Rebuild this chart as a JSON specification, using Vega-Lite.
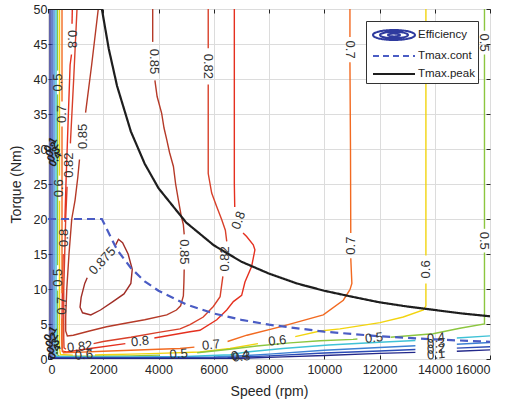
{
"$schema":"https://vega.github.io/schema/vega-lite/v6.json",
"width":442,"height":350,
"autosize":{"type":"none"},
"padding":{"left":48,"top":9,"right":17,"bottom":47},
"background":"white",
"config":{"view":{"stroke":"#262626","strokeWidth":1},"font":"Liberation Sans",
"axis":{"labelFont":"Liberation Sans","titleFont":"Liberation Sans","labelFontSize":12.5,"titleFontSize":14,"titleFontWeight":"normal","labelColor":"#262626","titleColor":"#262626","gridColor":"#dcdcdc","domain":false,"tickColor":"#262626","format":"d"}},
"datasets":{
"c":[
{"l":"0.875","s":"875","x":2450,"y":16.3},{"l":"0.875","s":"875","x":2550,"y":17.1},{"l":"0.875","s":"875","x":2700,"y":16.6},{"l":"0.875","s":"875","x":2900,"y":15.0},{"l":"0.875","s":"875","x":3050,"y":12.8},{"l":"0.875","s":"875","x":3000,"y":10.8},{"l":"0.875","s":"875","x":2750,"y":9.3},{"l":"0.875","s":"875","x":2350,"y":8.2},{"l":"0.875","s":"875","x":1900,"y":7.0},{"l":"0.875","s":"875","x":1550,"y":6.3},{"l":"0.875","s":"875","x":1250,"y":6.6},{"l":"0.875","s":"875","x":1160,"y":7.4},{"l":"0.875","s":"875","x":1200,"y":8.8},{"l":"0.875","s":"875","x":1330,"y":10.8},{"l":"0.875","s":"875","x":1420,"y":11.6},
{"l":"0.85","s":"85a","x":3790,"y":50},{"l":"0.85","s":"85a","x":3790,"y":45.3},
{"l":"0.85","s":"85b","x":3870,"y":39.8},{"l":"0.85","s":"85b","x":3950,"y":37.5},{"l":"0.85","s":"85b","x":4115,"y":35.1},{"l":"0.85","s":"85b","x":4200,"y":33},{"l":"0.85","s":"85b","x":4300,"y":31.3},{"l":"0.85","s":"85b","x":4400,"y":29.5},{"l":"0.85","s":"85b","x":4540,"y":27.5},{"l":"0.85","s":"85b","x":4620,"y":25},{"l":"0.85","s":"85b","x":4720,"y":22.7},{"l":"0.85","s":"85b","x":4820,"y":20.5},{"l":"0.85","s":"85b","x":4900,"y":19.2},{"l":"0.85","s":"85b","x":4930,"y":17.8},
{"l":"0.85","s":"85c","x":4930,"y":12.8},{"l":"0.85","s":"85c","x":4920,"y":11},{"l":"0.85","s":"85c","x":4900,"y":9},{"l":"0.85","s":"85c","x":4800,"y":7.6},{"l":"0.85","s":"85c","x":4650,"y":7.0},{"l":"0.85","s":"85c","x":4300,"y":6.3},{"l":"0.85","s":"85c","x":3500,"y":5.6},{"l":"0.85","s":"85c","x":2800,"y":5.1},{"l":"0.85","s":"85c","x":2120,"y":4.6},{"l":"0.85","s":"85c","x":1500,"y":4.0},{"l":"0.85","s":"85c","x":915,"y":3.4},{"l":"0.85","s":"85c","x":700,"y":3.3},{"l":"0.85","s":"85c","x":640,"y":4},{"l":"0.85","s":"85c","x":640,"y":6},{"l":"0.85","s":"85c","x":680,"y":10},{"l":"0.85","s":"85c","x":760,"y":15},{"l":"0.85","s":"85c","x":860,"y":20},{"l":"0.85","s":"85c","x":980,"y":22.7},{"l":"0.85","s":"85c","x":1080,"y":26},{"l":"0.85","s":"85c","x":1140,"y":28.5},
{"l":"0.85","s":"85d","x":1360,"y":35.2},{"l":"0.85","s":"85d","x":1580,"y":42},{"l":"0.85","s":"85d","x":1820,"y":50},
{"l":"0.82","s":"82a","x":5800,"y":50},{"l":"0.82","s":"82a","x":5800,"y":44.4},
{"l":"0.82","s":"82b","x":5800,"y":39.2},{"l":"0.82","s":"82b","x":5800,"y":26.5},{"l":"0.82","s":"82b","x":5925,"y":23.7},{"l":"0.82","s":"82b","x":6105,"y":21.8},{"l":"0.82","s":"82b","x":6290,"y":19.9},{"l":"0.82","s":"82b","x":6420,"y":18.4},{"l":"0.82","s":"82b","x":6470,"y":16.8},
{"l":"0.82","s":"82c","x":6330,"y":11.8},{"l":"0.82","s":"82c","x":6230,"y":8.9},{"l":"0.82","s":"82c","x":5985,"y":7.5},{"l":"0.82","s":"82c","x":5620,"y":6.0},{"l":"0.82","s":"82c","x":5140,"y":4.9},{"l":"0.82","s":"82c","x":4780,"y":4.3},{"l":"0.82","s":"82c","x":4000,"y":3.8},{"l":"0.82","s":"82c","x":3000,"y":3.1},{"l":"0.82","s":"82c","x":2000,"y":2.5},{"l":"0.82","s":"82c","x":1650,"y":2.2},
{"l":"0.82","s":"82d","x":650,"y":1.4},{"l":"0.82","s":"82d","x":580,"y":1.6},{"l":"0.82","s":"82d","x":570,"y":3},{"l":"0.82","s":"82d","x":570,"y":10},{"l":"0.82","s":"82d","x":640,"y":20},{"l":"0.82","s":"82d","x":690,"y":24.6},
{"l":"0.82","s":"82e","x":810,"y":30.8},{"l":"0.82","s":"82e","x":930,"y":40},{"l":"0.82","s":"82e","x":1050,"y":50},
{"l":"0.8","s":"80a","x":6745,"y":50},{"l":"0.8","s":"80a","x":6745,"y":25},{"l":"0.8","s":"80a","x":6760,"y":21.7},
{"l":"0.8","s":"80b","x":7060,"y":18.0},{"l":"0.8","s":"80b","x":7190,"y":17.5},{"l":"0.8","s":"80b","x":7430,"y":16.3},{"l":"0.8","s":"80b","x":7490,"y":15.6},{"l":"0.8","s":"80b","x":7370,"y":13.2},{"l":"0.8","s":"80b","x":7130,"y":11.0},{"l":"0.8","s":"80b","x":7010,"y":9.1},{"l":"0.8","s":"80b","x":6710,"y":8.2},{"l":"0.8","s":"80b","x":6470,"y":7.0},{"l":"0.8","s":"80b","x":6110,"y":5.6},{"l":"0.8","s":"80b","x":5500,"y":4.1},{"l":"0.8","s":"80b","x":5140,"y":3.9},{"l":"0.8","s":"80b","x":3850,"y":3.0},
{"l":"0.8","s":"80c","x":2800,"y":2.2},{"l":"0.8","s":"80c","x":1520,"y":1.5},{"l":"0.8","s":"80c","x":680,"y":1.0},{"l":"0.8","s":"80c","x":520,"y":1.1},{"l":"0.8","s":"80c","x":500,"y":3},{"l":"0.8","s":"80c","x":520,"y":10},{"l":"0.8","s":"80c","x":550,"y":15.0},
{"l":"0.8","s":"80d","x":610,"y":19.6},{"l":"0.8","s":"80d","x":650,"y":25},{"l":"0.8","s":"80d","x":720,"y":33},{"l":"0.8","s":"80d","x":800,"y":42},{"l":"0.8","s":"80d","x":850,"y":43.5},
{"l":"0.8","s":"80e","x":870,"y":47.9},{"l":"0.8","s":"80e","x":880,"y":50},
{"l":"0.7","s":"70a","x":10930,"y":50},{"l":"0.7","s":"70a","x":10930,"y":46.0},
{"l":"0.7","s":"70b","x":10930,"y":42.4},{"l":"0.7","s":"70b","x":10950,"y":30},{"l":"0.7","s":"70b","x":10960,"y":18.0},
{"l":"0.7","s":"70c","x":10960,"y":14.4},{"l":"0.7","s":"70c","x":11000,"y":10.8},{"l":"0.7","s":"70c","x":10930,"y":9.9},{"l":"0.7","s":"70c","x":10690,"y":8.4},{"l":"0.7","s":"70c","x":9965,"y":6.3},{"l":"0.7","s":"70c","x":8400,"y":4.6},{"l":"0.7","s":"70c","x":7200,"y":3.4},{"l":"0.7","s":"70c","x":6500,"y":2.5},
{"l":"0.7","s":"70d","x":5300,"y":1.7},{"l":"0.7","s":"70d","x":4780,"y":1.5},{"l":"0.7","s":"70d","x":4000,"y":1.4},{"l":"0.7","s":"70d","x":3000,"y":1.25},{"l":"0.7","s":"70d","x":2000,"y":1.1},{"l":"0.7","s":"70d","x":1000,"y":0.95},{"l":"0.7","s":"70d","x":560,"y":0.9},{"l":"0.7","s":"70d","x":507,"y":1.5},{"l":"0.7","s":"70d","x":507,"y":5.8},
{"l":"0.7","s":"70e","x":507,"y":9.4},{"l":"0.7","s":"70e","x":507,"y":33.2},
{"l":"0.7","s":"70f","x":507,"y":36.8},{"l":"0.7","s":"70f","x":507,"y":50},
{"l":"0.6","s":"60a","x":416,"y":50},{"l":"0.6","s":"60a","x":416,"y":26.2},
{"l":"0.6","s":"60b","x":416,"y":22.6},{"l":"0.6","s":"60b","x":416,"y":1.5},{"l":"0.6","s":"60b","x":450,"y":0.65},{"l":"0.6","s":"60b","x":900,"y":0.55},
{"l":"0.6","s":"60c","x":1700,"y":0.58},{"l":"0.6","s":"60c","x":2000,"y":0.6},{"l":"0.6","s":"60c","x":3000,"y":0.7},{"l":"0.6","s":"60c","x":4000,"y":0.8},{"l":"0.6","s":"60c","x":5500,"y":1.0},{"l":"0.6","s":"60c","x":6590,"y":1.5},{"l":"0.6","s":"60c","x":7600,"y":2.2},
{"l":"0.6","s":"60d","x":8950,"y":3.2},{"l":"0.6","s":"60d","x":9850,"y":4.0},{"l":"0.6","s":"60d","x":10570,"y":4.3},{"l":"0.6","s":"60d","x":12020,"y":5.2},{"l":"0.6","s":"60d","x":12860,"y":6.0},{"l":"0.6","s":"60d","x":13590,"y":7.0},{"l":"0.6","s":"60d","x":13680,"y":7.6},{"l":"0.6","s":"60d","x":13680,"y":10.8},
{"l":"0.6","s":"60e","x":13680,"y":14.8},{"l":"0.6","s":"60e","x":13680,"y":50},
{"l":"0.5","s":"50a","x":344,"y":50},{"l":"0.5","s":"50a","x":344,"y":41.2},
{"l":"0.5","s":"50b","x":344,"y":37.8},{"l":"0.5","s":"50b","x":344,"y":13.4},
{"l":"0.5","s":"50c","x":344,"y":9.8},{"l":"0.5","s":"50c","x":344,"y":0.6},{"l":"0.5","s":"50c","x":400,"y":0.42},{"l":"0.5","s":"50c","x":1000,"y":0.4},{"l":"0.5","s":"50c","x":2000,"y":0.4},{"l":"0.5","s":"50c","x":3000,"y":0.45},{"l":"0.5","s":"50c","x":4050,"y":0.55},
{"l":"0.5","s":"50d","x":5400,"y":0.9},{"l":"0.5","s":"50d","x":6590,"y":1.4},{"l":"0.5","s":"50d","x":7555,"y":1.86},{"l":"0.5","s":"50d","x":8760,"y":2.3},{"l":"0.5","s":"50d","x":9850,"y":2.6},{"l":"0.5","s":"50d","x":11040,"y":2.8},{"l":"0.5","s":"50d","x":11200,"y":2.85},
{"l":"0.5","s":"50e","x":12400,"y":3.1},{"l":"0.5","s":"50e","x":12500,"y":3.15},{"l":"0.5","s":"50e","x":13940,"y":3.6},{"l":"0.5","s":"50e","x":14910,"y":4.4},{"l":"0.5","s":"50e","x":15800,"y":5.0},{"l":"0.5","s":"50e","x":15800,"y":15.2},
{"l":"0.5","s":"50f","x":15800,"y":18.6},{"l":"0.5","s":"50f","x":15800,"y":43.5},
{"l":"0.5","s":"50g","x":15800,"y":46.9},{"l":"0.5","s":"50g","x":15800,"y":50},
{"l":"0.4","s":"40a","x":290,"y":50},{"l":"0.4","s":"40a","x":290,"y":0.35},{"l":"0.4","s":"40a","x":1000,"y":0.3},{"l":"0.4","s":"40a","x":3000,"y":0.3},{"l":"0.4","s":"40a","x":5000,"y":0.35},{"l":"0.4","s":"40a","x":6590,"y":0.6},{"l":"0.4","s":"40a","x":7190,"y":1.0},{"l":"0.4","s":"40a","x":8500,"y":1.5},{"l":"0.4","s":"40a","x":10160,"y":2.0},{"l":"0.4","s":"40a","x":12000,"y":2.4},{"l":"0.4","s":"40a","x":13300,"y":2.65},
{"l":"0.4","s":"40b","x":14800,"y":3.0},{"l":"0.4","s":"40b","x":16000,"y":3.3},
{"l":"0.3","s":"30a","x":217,"y":50},{"l":"0.3","s":"30a","x":217,"y":0.25},{"l":"0.3","s":"30a","x":3000,"y":0.22},{"l":"0.3","s":"30a","x":6000,"y":0.28},{"l":"0.3","s":"30a","x":7200,"y":0.5},{"l":"0.3","s":"30a","x":8000,"y":0.7},{"l":"0.3","s":"30a","x":10000,"y":1.25},{"l":"0.3","s":"30a","x":12000,"y":1.65},{"l":"0.3","s":"30a","x":13300,"y":1.9},
{"l":"0.3","s":"30b","x":14800,"y":2.1},{"l":"0.3","s":"30b","x":16000,"y":2.35},
{"l":"0.2","s":"20a","x":145,"y":50},{"l":"0.2","s":"20a","x":145,"y":0.17},{"l":"0.2","s":"20a","x":3000,"y":0.15},{"l":"0.2","s":"20a","x":6500,"y":0.18},{"l":"0.2","s":"20a","x":8000,"y":0.45},{"l":"0.2","s":"20a","x":10000,"y":0.85},{"l":"0.2","s":"20a","x":12000,"y":1.15},{"l":"0.2","s":"20a","x":13300,"y":1.35},
{"l":"0.2","s":"20b","x":14800,"y":1.55},{"l":"0.2","s":"20b","x":16000,"y":1.76},
{"l":"0.1","s":"10a","x":72,"y":50},{"l":"0.1","s":"10a","x":72,"y":0.1},{"l":"0.1","s":"10a","x":3000,"y":0.08},{"l":"0.1","s":"10a","x":7000,"y":0.1},{"l":"0.1","s":"10a","x":8500,"y":0.3},{"l":"0.1","s":"10a","x":10000,"y":0.5},{"l":"0.1","s":"10a","x":12000,"y":0.8},{"l":"0.1","s":"10a","x":13300,"y":0.95},
{"l":"0.1","s":"10b","x":14800,"y":1.1},{"l":"0.1","s":"10b","x":16000,"y":1.3}
],
"t":[
{"series":"Tmax.cont","x":0,"y":20},{"series":"Tmax.cont","x":1950,"y":20},{"series":"Tmax.cont","x":2500,"y":15.6},{"series":"Tmax.cont","x":3000,"y":13.0},{"series":"Tmax.cont","x":3500,"y":11.1},{"series":"Tmax.cont","x":4000,"y":9.75},{"series":"Tmax.cont","x":5000,"y":7.8},{"series":"Tmax.cont","x":6000,"y":6.5},{"series":"Tmax.cont","x":7000,"y":5.6},{"series":"Tmax.cont","x":8000,"y":4.9},{"series":"Tmax.cont","x":10000,"y":3.9},{"series":"Tmax.cont","x":12000,"y":3.25},{"series":"Tmax.cont","x":14000,"y":2.8},{"series":"Tmax.cont","x":16000,"y":2.45},
{"series":"Tmax.peak","x":0,"y":50},{"series":"Tmax.peak","x":1950,"y":50},{"series":"Tmax.peak","x":2200,"y":44.3},{"series":"Tmax.peak","x":2500,"y":39},{"series":"Tmax.peak","x":3000,"y":32.5},{"series":"Tmax.peak","x":3500,"y":27.9},{"series":"Tmax.peak","x":4000,"y":24.4},{"series":"Tmax.peak","x":5000,"y":19.5},{"series":"Tmax.peak","x":6000,"y":16.25},{"series":"Tmax.peak","x":7000,"y":13.9},{"series":"Tmax.peak","x":8000,"y":12.2},{"series":"Tmax.peak","x":9000,"y":10.8},{"series":"Tmax.peak","x":10000,"y":9.75},{"series":"Tmax.peak","x":11000,"y":8.9},{"series":"Tmax.peak","x":12000,"y":8.1},{"series":"Tmax.peak","x":13000,"y":7.5},{"series":"Tmax.peak","x":14000,"y":7.0},{"series":"Tmax.peak","x":15000,"y":6.5},{"series":"Tmax.peak","x":16000,"y":6.1}
],
"lDown":[
{"x":3830,"y":42.5,"t":"0.85"},{"x":4930,"y":15.3,"t":"0.85"},{"x":5800,"y":41.8,"t":"0.82"},{"x":870,"y":45.7,"t":"0.8"},{"x":10930,"y":44.2,"t":"0.7"},{"x":15800,"y":16.9,"t":"0.5"},{"x":15800,"y":45.2,"t":"0.5"}
],
"lUp":[
{"x":10960,"y":16.2,"t":"0.7"},{"x":507,"y":7.6,"t":"0.7"},{"x":507,"y":35,"t":"0.7"},{"x":416,"y":24.4,"t":"0.6"},{"x":13680,"y":12.8,"t":"0.6"},{"x":344,"y":39.5,"t":"0.5"},{"x":344,"y":11.6,"t":"0.5"},{"x":1250,"y":31.8,"t":"0.85"},{"x":750,"y":27.7,"t":"0.82"},{"x":580,"y":17.3,"t":"0.8"},{"x":6400,"y":14.3,"t":"0.82"}
],
"lFlat":[
{"x":1150,"y":1.75,"t":"0.82"},{"x":3330,"y":2.5,"t":"0.8"},{"x":5900,"y":2.0,"t":"0.7"},{"x":1300,"y":0.55,"t":"0.6"},{"x":4730,"y":0.7,"t":"0.5"},{"x":11800,"y":3.0,"t":"0.5"},{"x":8300,"y":2.6,"t":"0.6"},
{"x":14050,"y":3.0,"t":"0.4"},{"x":14050,"y":2.2,"t":"0.3"},{"x":14050,"y":1.4,"t":"0.2"},{"x":14050,"y":0.6,"t":"0.1"},{"x":6950,"y":0.5,"t":"0.4"},{"x":7000,"y":0.3,"t":"0.3"}
],
"l875":[{"x":1970,"y":14.0,"t":"0.875"}],
"l80":[{"x":6900,"y":19.8,"t":"0.8"}],
"lBlob":[
{"x":100,"y":30.6,"t":"0.1"},{"x":160,"y":29.9,"t":"0.2"},{"x":220,"y":29.2,"t":"0.3"},{"x":280,"y":28.5,"t":"0.4"},
{"x":100,"y":3.6,"t":"0.1"},{"x":150,"y":2.7,"t":"0.2"},{"x":200,"y":1.8,"t":"0.3"},{"x":250,"y":1.0,"t":"0.4"}
]
},
"resolve":{"axis":{"x":"independent","y":"independent"}},
"layer":[
{"data":{"name":"c"},"mark":{"type":"line","strokeWidth":1.4,"clip":true},
"encoding":{
"x":{"field":"x","type":"quantitative","scale":{"domain":[0,16000],"nice":false},"axis":{"values":[0,2000,4000,6000,8000,10000,12000,14000,16000],"title":"Speed (rpm)","tickSize":-4,"labelPadding":8,"titlePadding":9,"grid":true}},
"y":{"field":"y","type":"quantitative","scale":{"domain":[0,50],"nice":false},"axis":{"values":[0,5,10,15,20,25,30,35,40,45,50],"title":"Torque (Nm)","tickSize":-4,"labelPadding":5,"titlePadding":10,"grid":true}},
"stroke":{"field":"l","type":"nominal","legend":null,"scale":{"domain":["0.1","0.2","0.3","0.4","0.5","0.6","0.7","0.8","0.82","0.85","0.875"],"range":["#23288a","#2b4bb5","#3d80d4","#3fc2d6","#8cc63f","#f2d40f","#f26a21","#e5301f","#d8402a","#b53a28","#a02d26"]}},
"detail":{"field":"s","type":"nominal"},
"order":{"value":null}}},
{"data":{"name":"t"},"mark":{"type":"line","strokeWidth":2.2,"clip":true},
"encoding":{
"x":{"field":"x","type":"quantitative","axis":{"orient":"top","labels":false,"title":null,"grid":false,"tickSize":-4,"values":[0,2000,4000,6000,8000,10000,12000,14000,16000]}},
"y":{"field":"y","type":"quantitative","axis":{"orient":"right","labels":false,"title":null,"grid":false,"tickSize":-4,"values":[0,5,10,15,20,25,30,35,40,45,50]}},
"color":{"field":"series","type":"nominal","scale":{"domain":["Efficiency","Tmax.cont","Tmax.peak"],"range":["#2e3a9e","#4a5cc4","#1e1e1e"]},
"legend":{"title":null,"orient":"top-right","offset":12,"fillColor":"white","strokeColor":"#333333","padding":3,"rowPadding":1,"symbolSize":400,"symbolOffset":14,"labelOffset":13,"labelFontSize":11.5,"labelColor":"#222222","labelFont":"Liberation Sans",
"encode":{"symbols":{"update":{
"shape":[{"test":"datum.value === 'Efficiency'","value":"M-2.1,0A2.1,0.5,0,1,0,2.1,0A2.1,0.5,0,1,0,-2.1,0ZM-1.4,0A1.4,0.32,0,1,0,1.4,0A1.4,0.32,0,1,0,-1.4,0ZM-0.6,0A0.6,0.14,0,1,0,0.6,0A0.6,0.14,0,1,0,-0.6,0Z"},{"value":"M-2.1,0H2.1"}],
"stroke":[{"test":"datum.value === 'Efficiency'","value":"#2e3a9e"},{"test":"datum.value === 'Tmax.cont'","value":"#4a5cc4"},{"value":"#1e1e1e"}],
"strokeDash":[{"test":"datum.value === 'Tmax.cont'","value":[6,4]},{"value":[1,0]}],
"strokeWidth":{"value":2},
"fill":{"value":"transparent"}}}}}},
"strokeDash":{"field":"series","type":"nominal","legend":null,"scale":{"domain":["Tmax.cont","Tmax.peak"],"range":[[8,5],[1,0]]}},
"order":{"value":null}}},
{"data":{"name":"lDown"},"mark":{"type":"text","angle":90,"fontSize":13,"color":"#333333","font":"Liberation Sans"},
"encoding":{"x":{"field":"x","type":"quantitative","axis":null},"y":{"field":"y","type":"quantitative","axis":null},"text":{"field":"t"}}},
{"data":{"name":"lUp"},"mark":{"type":"text","angle":270,"fontSize":13,"color":"#333333","font":"Liberation Sans"},
"encoding":{"x":{"field":"x","type":"quantitative","axis":null},"y":{"field":"y","type":"quantitative","axis":null},"text":{"field":"t"}}},
{"data":{"name":"lFlat"},"mark":{"type":"text","angle":354,"fontSize":13,"color":"#333333","font":"Liberation Sans"},
"encoding":{"x":{"field":"x","type":"quantitative","axis":null},"y":{"field":"y","type":"quantitative","axis":null},"text":{"field":"t"}}},
{"data":{"name":"l875"},"mark":{"type":"text","angle":313,"fontSize":13,"color":"#333333","font":"Liberation Sans"},
"encoding":{"x":{"field":"x","type":"quantitative","axis":null},"y":{"field":"y","type":"quantitative","axis":null},"text":{"field":"t"}}},
{"data":{"name":"l80"},"mark":{"type":"text","angle":290,"fontSize":13,"color":"#333333","font":"Liberation Sans"},
"encoding":{"x":{"field":"x","type":"quantitative","axis":null},"y":{"field":"y","type":"quantitative","axis":null},"text":{"field":"t"}}},
{"data":{"name":"lBlob"},"mark":{"type":"text","angle":300,"fontSize":11,"color":"#222222","font":"Liberation Sans","fontWeight":"bold"},
"encoding":{"x":{"field":"x","type":"quantitative","axis":null},"y":{"field":"y","type":"quantitative","axis":null},"text":{"field":"t"}}}
]
}
